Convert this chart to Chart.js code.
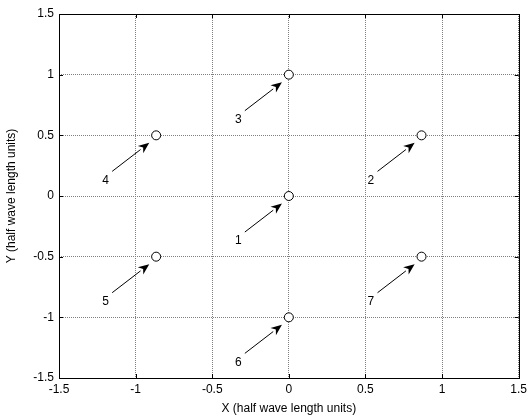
<!DOCTYPE html>
<html>
<head>
<meta charset="utf-8">
<script src="https://cdn.jsdelivr.net/npm/chart.js@4/dist/chart.umd.min.js"></script>
<style>
  html, body { margin: 0; padding: 0; background: #fff; }
  #wrap { width: 531px; height: 418px; }
</style>
</head>
<body>
<div id="wrap"><canvas id="myChart"></canvas></div>
<script>
// Data
var pointLabels = ['1', '2', '3', '4', '5', '6', '7'];
var xValues = [0, 0.866, 0, -0.866, -0.866, 0, 0.866];
var yValues = [0, 0.5, 1, 0.5, -0.5, -1, -0.5];
var tickValues = [-1.5, -1, -0.5, 0, 0.5, 1, 1.5];

// arrow tail / head and label offsets, in axis units
var tailOffset = [-0.287, -0.297];
var headOffset = [-0.045, -0.062];
var labelOffset = [-0.33, -0.37];

var FONT = 'Liberation Sans, Arial, sans-serif';

var annotate = {
    id: 'annotate',
    afterDatasetsDraw: function (chart) {
        var ctx = chart.ctx;
        var xs = chart.scales.x, ys = chart.scales.y;
        var a = chart.chartArea;
        ctx.save();

        // inward ticks
        ctx.strokeStyle = '#000';
        ctx.lineWidth = 1;
        ctx.beginPath();
        tickValues.forEach(function (v) {
            var px = Math.round(xs.getPixelForValue(v)) + 0.5;
            ctx.moveTo(px, a.bottom); ctx.lineTo(px, a.bottom - 4);
            ctx.moveTo(px, a.top); ctx.lineTo(px, a.top + 4);
            var py = Math.round(ys.getPixelForValue(v)) + 0.5;
            ctx.moveTo(a.left, py); ctx.lineTo(a.left + 4, py);
            ctx.moveTo(a.right, py); ctx.lineTo(a.right - 4, py);
        });
        ctx.stroke();

        // box
        ctx.strokeRect(Math.round(a.left) + 0.5, Math.round(a.top) + 0.5,
            Math.round(a.right - a.left), Math.round(a.bottom - a.top));

        // arrows and labels
        ctx.fillStyle = '#000';
        ctx.font = '12px ' + FONT;
        ctx.textAlign = 'center';
        ctx.textBaseline = 'middle';
        for (var i = 0; i < xValues.length; i++) {
            var x0 = xs.getPixelForValue(xValues[i] + tailOffset[0]);
            var y0 = ys.getPixelForValue(yValues[i] + tailOffset[1]);
            var x1 = xs.getPixelForValue(xValues[i] + headOffset[0]);
            var y1 = ys.getPixelForValue(yValues[i] + headOffset[1]);
            var ang = Math.atan2(y1 - y0, x1 - x0);
            var hl = 11, hw = 4.5;
            var bx = x1 - hl * Math.cos(ang), by = y1 - hl * Math.sin(ang);
            ctx.beginPath();
            ctx.moveTo(x0, y0);
            ctx.lineTo(bx, by);
            ctx.stroke();
            ctx.beginPath();
            ctx.moveTo(x1, y1);
            ctx.lineTo(bx + hw * Math.sin(ang), by - hw * Math.cos(ang));
            ctx.lineTo(x1 - 0.7 * hl * Math.cos(ang), y1 - 0.7 * hl * Math.sin(ang));
            ctx.lineTo(bx - hw * Math.sin(ang), by + hw * Math.cos(ang));
            ctx.closePath();
            ctx.fill();

            ctx.fillText(pointLabels[i],
                xs.getPixelForValue(xValues[i] + labelOffset[0]),
                ys.getPixelForValue(yValues[i] + labelOffset[1]));
        }
        ctx.restore();
    }
};

function fmt(v) {
    return String(v);
}

new Chart("myChart", {
    type: "scatter",
    plugins: [annotate],
    data: {
        datasets: [{
            label: 'elements',
            data: xValues.map(function (x, i) { return { x: x, y: yValues[i] }; }),
            pointRadius: 4.5,
            pointBackgroundColor: '#fff',
            pointBorderColor: '#000',
            pointBorderWidth: 1,
            showLine: false
        }]
    },
    options: {
        responsive: true,
        maintainAspectRatio: false,
        animation: false,
        layout: { padding: { top: 14, right: 11, left: 0, bottom: 0 } },
        plugins: {
            legend: { display: false },
            tooltip: { enabled: false }
        },
        scales: {
            x: {
                type: 'linear',
                min: -1.5,
                max: 1.5,
                afterBuildTicks: function (s) { s.ticks = tickValues.map(function (v) { return { value: v }; }); },
                afterFit: function (s) { s.height = 40; },
                grid: { color: '#808080', drawTicks: false, lineWidth: 1 },
                border: { display: false, dash: [1, 1] },
                ticks: {
                    color: '#000',
                    padding: 4,
                    maxRotation: 0,
                    font: { family: FONT, size: 12 },
                    callback: fmt
                },
                title: {
                    display: true,
                    text: 'X (half wave length units)',
                    color: '#000',
                    padding: { top: 0, bottom: 2 },
                    font: { family: FONT, size: 12 }
                }
            },
            y: {
                type: 'linear',
                min: -1.5,
                max: 1.5,
                afterBuildTicks: function (s) { s.ticks = tickValues.map(function (v) { return { value: v }; }); },
                afterFit: function (s) { s.width = 59; },
                grid: { color: '#808080', drawTicks: false, lineWidth: 1 },
                border: { display: false, dash: [1, 1] },
                ticks: {
                    color: '#000',
                    padding: 5,
                    font: { family: FONT, size: 12 },
                    callback: fmt
                },
                title: {
                    display: true,
                    text: 'Y (half wave length units)',
                    color: '#000',
                    padding: { top: 4, bottom: 0 },
                    font: { family: FONT, size: 12 }
                }
            }
        }
    }
});
</script>
</body>
</html>
